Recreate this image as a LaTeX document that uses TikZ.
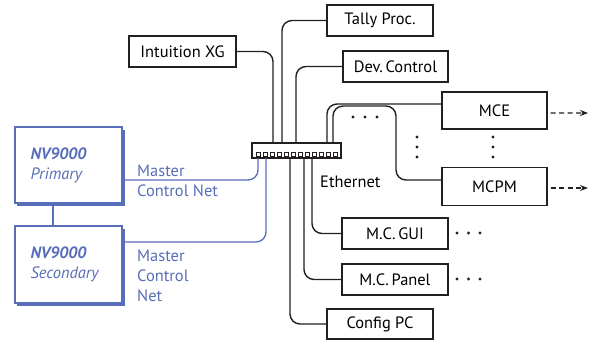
\documentclass[tikz,border=0pt]{standalone}
\usepackage{fontspec}
\setmainfont{PT Sans}
\usetikzlibrary{arrows.meta,shadows}

\definecolor{nvblue}{RGB}{88,110,184}
\definecolor{cablegray}{RGB}{35,31,32}
\newcommand{\lblfont}{\fontsize{16.5}{20}\selectfont}

\tikzset{
  unit/.style={draw=cablegray, line width=1.1bp, fill=white, minimum width=106bp,
    minimum height=31bp, inner sep=0pt, font=\lblfont},
  nvbox/.style={draw=nvblue, line width=1.1bp, fill=white, text=nvblue,
    minimum width=107bp, minimum height=76bp, text width=76bp, inner xsep=15.5bp,
    align=left, font=\lblfont\itshape,
    drop shadow={shadow xshift=2.5bp, shadow yshift=-2.5bp, fill=nvblue, opacity=1}},
  cable/.style={draw=cablegray, line width=1.4bp, rounded corners=10bp},
  netline/.style={draw=nvblue, line width=1.3bp, rounded corners=10bp},
  netlabel/.style={text=nvblue, font=\lblfont, align=left, inner sep=0pt, anchor=west},
  ellip/.style={fill=cablegray},
  onward/.style={draw=cablegray, line width=1.1bp, dash pattern=on 5bp off 3.5bp, -{Stealth[length=8bp,width=6bp]}}
}

\begin{document}
\begin{tikzpicture}[x=1bp,y=-1bp]
  \useasboundingbox (0,0) rectangle (592,343);

  % switch
  \node[draw=cablegray, line width=1.1bp, fill=white, minimum width=89bp, minimum height=15bp, inner sep=0pt] (sw) at (296.5,150.5) {};
  \foreach \i in {0,...,11}
    \draw[cablegray, line width=0.6bp] (256+7*\i,152) rectangle +(4,4);

  % taps on the switch
  \coordinate (s1) at (273,143);
  \coordinate (s2) at (282,143);
  \coordinate (s3) at (296,143);
  \coordinate (s4) at (327,143);
  \coordinate (s5) at (333,143);
  \coordinate (b1) at (258,158);
  \coordinate (b2) at (266,158);
  \coordinate (b3) at (290,158);
  \coordinate (b4) at (304,158);
  \coordinate (b5) at (312,158);
  \coordinate (mbend) at (396,106);

  % devices
  \node[unit, minimum width=107bp] (xg) at (182.5,51.5) {Intuition XG};
  \node[unit] (tally) at (380,20.5) {Tally Proc.};
  \node[unit, minimum width=105bp] (dev) at (395.5,66.5) {Dev.\,Control};
  \node[unit, minimum width=105bp, minimum height=37bp] (mce) at (494.5,110.5) {MCE};
  \node[unit, minimum width=105bp, minimum height=38bp] (mcpm) at (494.5,186.5) {MCPM};
  \node[unit] (gui) at (395,233.5) {M.C.\,GUI};
  \node[unit] (panel) at (395,279.5) {M.C.\,Panel};
  \node[unit, minimum height=30bp] (config) at (380,324) {Config PC};

  \node[nvbox] (primary) at (68.5,165) {\textbf{NV9000}\\Primary};
  \node[nvbox, minimum height=77bp] (secondary) at (68.5,264.5) {\textbf{NV9000}\\Secondary};

  % ethernet cables
  \draw[cable] (xg.east) -| (s1);
  \draw[cable] (tally.west) -| (s2);
  \draw[cable] (dev.west) -| (s3);
  \draw[cable] (s4) |- ([yshift=6.5bp]mce.west);
  \draw[cable] (s5) |- (mbend) |- ([yshift=6.5bp]mcpm.west);
  \draw[cable] (b3) |- (config.west);
  \draw[cable] (b4) |- (panel.west);
  \draw[cable] (b5) |- (gui.west);

  % master control net
  \draw[netline] (b1) |- ([yshift=-15bp]primary.east);
  \draw[netline] (b2) |- ([yshift=22.5bp]secondary.east);
  \draw[nvblue, line width=1.1bp] ([xshift=-15.5bp]primary.south) -- ([xshift=-15.5bp]secondary.north);

  \node[netlabel] (mcn1) at (137,181) {Master\\Control Net};
  \node[netlabel] (mcn2) at (137,276) {Master\\Control\\Net};
  \node[font=\lblfont, inner sep=0pt, anchor=west] (eth) at (320,181.5) {Ethernet};

  % onward links
  \coordinate (mceout) at (588,113);
  \coordinate (mcpmout) at (588,188);
  \draw[onward] ([xshift=3bp,yshift=-2.5bp]mce.east) -- (mceout);
  \draw[onward] ([xshift=3bp,yshift=-1.5bp]mcpm.east) -- (mcpmout);

  % more of the same
  \foreach \x in {353,365,377} \fill[ellip] (\x,117) circle[radius=1.7bp];
  \foreach \y in {137,147,157} {
    \fill[ellip] (417,\y) circle[radius=1.7bp];
    \fill[ellip] (493,\y) circle[radius=1.7bp];
  }
  \foreach \x in {457,468.5,480} {
    \fill[ellip] (\x,233) circle[radius=1.7bp];
    \fill[ellip] (\x,279) circle[radius=1.7bp];
  }
\end{tikzpicture}
\end{document}
